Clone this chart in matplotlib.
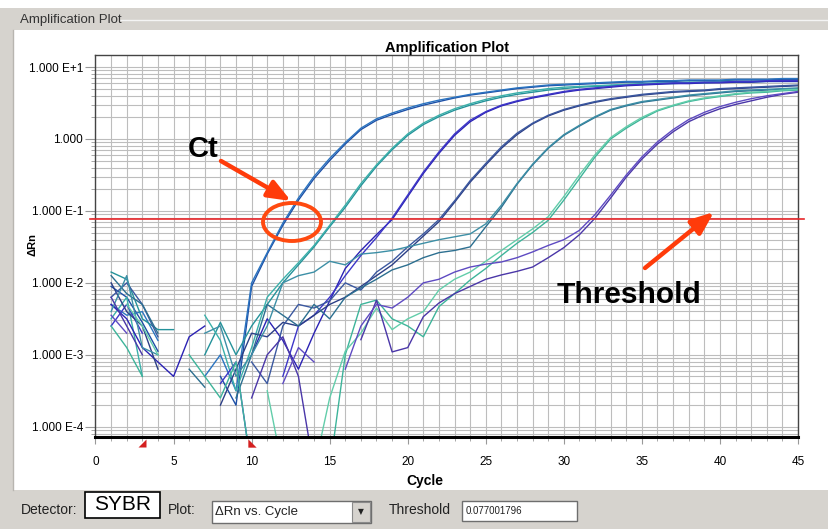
import numpy as np
import matplotlib
matplotlib.use("Agg")
import matplotlib.pyplot as plt
from matplotlib.patches import Rectangle, Ellipse, FancyArrowPatch
from matplotlib.ticker import FixedLocator, LogLocator, NullFormatter

plt.rcParams['font.family'] = ['Liberation Sans Narrow', 'Liberation Sans', 'DejaVu Sans']

nan = np.nan
cycles = np.arange(1, 46)
threshold = 0.077001796
baseline_start, baseline_end = 3, 10

# log10(dRn) for each well, cycles 1..45; nan where dRn <= 0 (nothing drawn on log axis)
a1 = [-2.05, -2.20, -2.55, -2.95, nan, nan, nan, -3.30, -3.70, -2.05, -1.60, -1.20, -0.85, -0.55, -0.30,
      -0.07, 0.13, 0.26, 0.34, 0.41, 0.47, 0.52, 0.57, 0.61, 0.64, 0.67, 0.70, 0.72, 0.74, 0.75,
      0.76, 0.77, 0.78, 0.79, 0.79, 0.80, 0.80, 0.81, 0.81, 0.81, 0.82, 0.82, 0.82, 0.83, 0.83]
a2 = [-2.30, -2.45, -2.40, -2.80, nan, nan, -3.30, -3.00, -3.50, -2.00, -1.58, -1.17, -0.82, -0.52, -0.27,
      -0.05, 0.15, 0.28, 0.36, 0.43, 0.49, 0.54, 0.58, 0.62, 0.65, 0.68, 0.71, 0.73, 0.75, 0.76,
      0.77, 0.78, 0.79, 0.80, 0.80, 0.81, 0.81, 0.82, 0.82, 0.82, 0.83, 0.83, 0.83, 0.84, 0.84]
b1 = [-1.85, -1.95, -2.50, -2.65, -2.65, nan, -3.00, -2.55, -3.00, -2.60, -2.30, -2.00, -1.75, -1.50, -1.22,
      -0.95, -0.65, -0.38, -0.15, 0.05, 0.20, 0.31, 0.40, 0.47, 0.53, 0.58, 0.62, 0.65, 0.68, 0.70,
      0.72, 0.73, 0.74, 0.75, 0.76, 0.77, 0.77, 0.78, 0.78, 0.79, 0.79, 0.79, 0.80, 0.80, 0.80]
b2 = [-2.50, -2.20, -3.30, nan, nan, nan, -2.45, -2.80, -3.50, -2.90, -2.20, -1.95, -1.72, -1.48, -1.20,
      -0.92, -0.62, -0.36, -0.13, 0.07, 0.22, 0.33, 0.42, 0.49, 0.55, 0.60, 0.64, 0.67, 0.70, 0.72,
      0.73, 0.74, 0.75, 0.76, 0.77, 0.78, 0.78, 0.79, 0.79, 0.80, 0.80, 0.80, 0.81, 0.81, 0.81]
c1 = [-2.30, -2.50, -2.90, -3.10, -3.30, -2.75, -2.60, nan, nan, -3.00, -2.50, -2.80, -3.20, -2.70, -2.25,
      -1.80, -1.55, -1.33, -1.12, -0.80, -0.48, -0.20, 0.05, 0.24, 0.37, 0.46, 0.52, 0.57, 0.61, 0.65,
      0.68, 0.70, 0.72, 0.74, 0.75, 0.76, 0.77, 0.77, 0.78, 0.78, 0.79, 0.79, 0.80, 0.80, 0.80]
c2 = [-2.60, -2.30, -2.70, nan, nan, nan, nan, -3.40, -3.10, -4.60, nan, -3.30, -2.60, -2.45, -2.20,
      -1.90, -1.62, -1.37, -1.10, -0.78, -0.46, -0.18, 0.07, 0.26, 0.38, 0.47, 0.53, 0.58, 0.62, 0.66,
      0.69, 0.71, 0.73, 0.75, 0.76, 0.77, 0.78, 0.78, 0.79, 0.79, 0.80, 0.80, 0.81, 0.81, 0.81]
d1 = [-2.00, -2.40, -2.60, -3.20, nan, nan, nan, -3.70, -3.20, -2.70, -2.75, -2.55, -2.60, -2.45, -2.30,
      -2.20, -2.05, -1.90, -1.75, -1.55, -1.35, -1.15, -0.88, -0.60, -0.36, -0.13, 0.06, 0.21, 0.32, 0.40,
      0.46, 0.51, 0.55, 0.58, 0.61, 0.63, 0.65, 0.66, 0.67, 0.69, 0.70, 0.71, 0.72, 0.73, 0.74]
d2 = [-2.20, -2.00, -2.30, -2.75, nan, nan, nan, nan, nan, -3.10, -3.40, -2.60, -2.30, -2.35, -2.25,
      -2.00, -2.10, -1.85, -1.70, -1.50, -1.32, -1.12, -0.86, -0.58, -0.34, -0.11, 0.08, 0.22, 0.33, 0.41,
      0.47, 0.52, 0.56, 0.59, 0.62, 0.64, 0.66, 0.67, 0.68, 0.70, 0.71, 0.72, 0.73, 0.74, 0.75]
e1 = [-1.90, -2.15, -2.30, -2.70, nan, -3.20, -3.45, nan, -3.60, -3.00, -2.30, -2.45, -2.60, -2.30, -2.50,
      -2.20, -2.07, -1.95, -1.82, -1.75, -1.65, -1.58, -1.55, -1.50, -1.22, -0.95, -0.63, -0.36, -0.13, 0.05,
      0.18, 0.30, 0.40, 0.46, 0.51, 0.54, 0.57, 0.60, 0.62, 0.64, 0.66, 0.67, 0.68, 0.69, 0.70]
e2 = [-2.40, -1.90, -2.90, -3.00, nan, nan, -2.70, -2.60, -3.30, -3.00, -2.60, -2.00, -1.90, -1.85, -1.70,
      -1.75, -1.60, -1.58, -1.55, -1.50, -1.45, -1.40, -1.36, -1.32, -1.18, -0.92, -0.62, -0.35, -0.12, 0.06,
      0.19, 0.31, 0.41, 0.47, 0.52, 0.55, 0.58, 0.61, 0.63, 0.65, 0.67, 0.68, 0.69, 0.70, 0.71]
f1 = [-2.60, -2.90, -3.30, nan, nan, -3.00, -3.30, -3.60, -3.10, -4.60, nan, nan, nan, nan, -4.60,
      -3.00, -2.30, -2.24, -2.50, -2.60, -2.75, -2.33, -2.15, -1.96, -1.80, -1.62, -1.45, -1.30, -1.13, -0.85,
      -0.55, -0.25, 0.00, 0.15, 0.28, 0.39, 0.46, 0.52, 0.56, 0.59, 0.62, 0.64, 0.65, 0.67, 0.68]
f2 = [nan, -2.30, -2.60, -3.00, nan, nan, nan, nan, nan, nan, -3.50, -4.60, nan, -4.60, -3.60,
      -2.95, -2.70, -2.35, -2.65, -2.50, -2.40, -2.10, -1.95, -1.85, -1.70, -1.55, -1.40, -1.25, -1.08, -0.80,
      -0.50, -0.22, 0.02, 0.17, 0.30, 0.40, 0.47, 0.53, 0.57, 0.60, 0.63, 0.65, 0.66, 0.68, 0.69]
g1 = [-2.20, -2.60, -3.00, nan, nan, nan, nan, nan, nan, -3.60, -3.00, -2.75, -3.30, -4.60, nan,
      nan, -2.79, -2.24, -2.96, -2.90, -2.47, -2.28, -2.15, -2.05, -1.95, -1.89, -1.84, -1.78, -1.65, -1.51,
      -1.33, -1.10, -0.82, -0.53, -0.28, -0.07, 0.10, 0.24, 0.34, 0.42, 0.48, 0.53, 0.58, 0.62, 0.65]
g2 = [-2.45, -2.70, nan, nan, nan, nan, nan, nan, nan, nan, nan, -3.40, -2.90, -3.10, nan,
      -3.20, -2.60, -2.30, -2.35, -2.20, -2.00, -1.95, -1.85, -1.78, -1.74, -1.71, -1.65, -1.57, -1.48, -1.40,
      -1.27, -1.05, -0.78, -0.50, -0.25, -0.04, 0.13, 0.27, 0.37, 0.45, 0.51, 0.56, 0.60, 0.63, 0.66]

wells = [a1, a2, b1, b2, c1, c2, d1, d2, e1, e2, f1, f2, g1, g2]
well_colors = ['#1d4fa6', '#2b74c0', '#24929a', '#3bb0aa', '#2b22b4', '#3d36c8', '#2c3f86',
               '#3b58a0', '#2c6f90', '#3c8fa6', '#3db49a', '#62cdaa', '#4a36a8', '#5e4ac2']

x_ticks = [0, 5, 10, 15, 20, 25, 30, 35, 40, 45]
y_ticks = [1e-4, 1e-3, 1e-2, 1e-1, 1, 10]
y_ticklabels = ['1.000 E-4', '1.000 E-3', '1.000 E-2', '1.000 E-1', '1.000', '1.000 E+1']

W, H = 829, 529
fig = plt.figure(figsize=(W / 100, H / 100), dpi=100, facecolor='white')
bold_font = ['Liberation Sans', 'DejaVu Sans']


def fx(x):
    return x / W


def fy(y):
    return 1 - y / H


def box(x0, y0, x1, y1, **kw):
    # rectangle given in screen pixels (top-left origin)
    r = Rectangle((fx(x0), fy(y1)), (x1 - x0) / W, (y1 - y0) / H,
                  transform=fig.transFigure, **kw)
    fig.add_artist(r)
    return r


# window chrome
grey = '#d6d3ce'
box(0, 8, W, 30, facecolor=grey, edgecolor='none', zorder=0)
box(0, 8, 13, H, facecolor=grey, edgecolor='none', zorder=0)
box(0, 490, W, H, facecolor=grey, edgecolor='none', zorder=0)
fig.add_artist(plt.Line2D([fx(120), 1], [fy(20), fy(20)], color='#f4f4f4', lw=1.0))
fig.add_artist(plt.Line2D([fx(13), fx(13)], [fy(30), fy(490)], color='#b8b5b0', lw=1.0))
fig.text(fx(20), fy(20), 'Amplification Plot', fontsize=9.5, color='#333333', va='center')

# plot area
ax = fig.add_axes([fx(95.5), fy(437), (798 - 95.5) / W, (437 - 55) / H])
ax.set_yscale('log')
ax.set_xlim(0, 45)
ax.set_ylim(7.2e-5, 14.7)

for vals, col in zip(wells, well_colors):
    ax.plot(cycles, np.power(10.0, vals), color=col, lw=1.0)

ax.plot([-0.35, 45.4], [threshold, threshold], color='#e8262a', lw=1.2, clip_on=False, zorder=5)

ax.set_axisbelow(True)
ax.set_xticks(x_ticks)
ax.xaxis.set_minor_locator(FixedLocator(range(46)))
ax.set_yticks(y_ticks)
ax.set_yticklabels(y_ticklabels)
ax.yaxis.set_minor_locator(LogLocator(base=10, subs=np.arange(2, 10)))
ax.yaxis.set_minor_formatter(NullFormatter())
ax.grid(which='both', color='#bdbdbd', lw=0.8)

for s in ['left', 'top', 'right']:
    ax.spines[s].set_color('#444444')
    ax.spines[s].set_linewidth(1.0)
ax.spines['bottom'].set_color('black')
ax.spines['bottom'].set_linewidth(2.2)

ax.tick_params(axis='x', which='major', length=5, pad=9, labelsize=8.5, color='#999999')
ax.tick_params(axis='x', which='minor', length=3, color='#999999')
ax.tick_params(axis='y', which='major', length=7, pad=2, labelsize=8.5, color='#999999')
ax.tick_params(axis='y', which='minor', length=3, color='#999999')

ax.set_title('Amplification Plot', fontsize=10.5, fontweight='bold', pad=2)
fig.text(fx(425), fy(481), 'Cycle', ha='center', va='center', fontsize=10, fontweight='bold')
fig.text(fx(33), fy(245), 'ΔRn', rotation=90, ha='center', va='center', fontsize=8,
         fontweight='bold', family=bold_font)

# baseline start / end flags
xt = ax.get_xaxis_transform()
ax.plot([baseline_start], [-0.016], transform=xt, clip_on=False, ls='none',
        marker=[(-1, -1), (1, -1), (1, 1)], ms=6, color='#d42020', mec='none')
ax.plot([baseline_end], [-0.016], transform=xt, clip_on=False, ls='none',
        marker=[(-1, -1), (1, -1), (-1, 1)], ms=6, color='#d42020', mec='none')

# callouts
arrow_col = '#ff3b0a'
fig.text(fx(203), fy(149), 'Ct', fontsize=21, fontweight='bold', ha='center', va='center',
         family=bold_font)
fig.add_artist(FancyArrowPatch((fx(221), fy(161)), (fx(291), fy(201)), transform=fig.transFigure,
                               arrowstyle='-|>,head_length=0.55,head_width=0.22', mutation_scale=25,
                               shrinkA=0, shrinkB=0, color=arrow_col, lw=3.2))
fig.add_artist(Ellipse((fx(292), fy(222)), 58 / W, 38 / H, transform=fig.transFigure,
                       fill=False, edgecolor='#ff4a10', lw=2.8))
fig.text(fx(629), fy(295), 'Threshold', fontsize=21.5, fontweight='bold', ha='center', va='center',
         family=bold_font)
fig.add_artist(FancyArrowPatch((fx(645), fy(268)), (fx(714), fy(212)), transform=fig.transFigure,
                               arrowstyle='-|>,head_length=0.55,head_width=0.22', mutation_scale=25,
                               shrinkA=0, shrinkB=0, color=arrow_col, lw=3.2))

# controls strip
fig.text(fx(21), fy(510), 'Detector:', fontsize=10, va='center', color='#222222')
box(85, 492, 160, 518, facecolor='white', edgecolor='black', lw=1.2, zorder=3)
fig.text(fx(122.5), fy(505), 'SYBR', fontsize=15, ha='center', va='center', zorder=4,
         family=bold_font)
fig.text(fx(168), fy(510), 'Plot:', fontsize=10, va='center', color='#222222')
box(212, 501, 371, 523, facecolor='white', edgecolor='#6e6e6e', lw=1.0)
box(352, 502, 370, 522, facecolor=grey, edgecolor='#8a8a8a', lw=0.8)
fig.text(fx(361), fy(512), '▼', fontsize=5.5, ha='center', va='center', color='#222222',
         family=['DejaVu Sans'])
fig.text(fx(215), fy(512), 'ΔRn vs. Cycle', fontsize=9.5, va='center', color='#222222')
fig.text(fx(389), fy(510), 'Threshold', fontsize=10, va='center', color='#222222')
box(462, 501, 577, 521, facecolor='white', edgecolor='#6e6e6e', lw=1.0)
fig.text(fx(466), fy(511), f'{threshold:.9f}', fontsize=7, va='center', color='#222222')

fig.savefig('out.png', dpi=100)
